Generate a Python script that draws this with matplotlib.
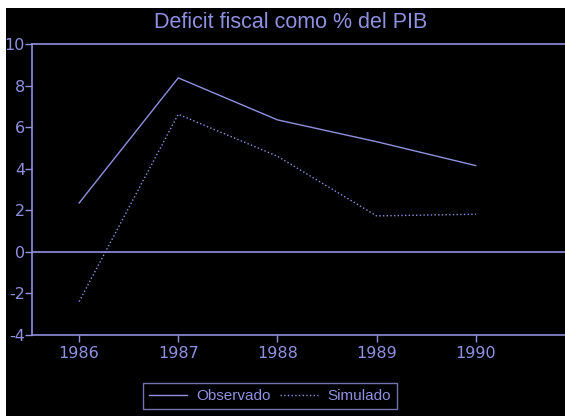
import matplotlib.pyplot as plt
from matplotlib.patches import Rectangle
from matplotlib.lines import Line2D

years = [1986, 1987, 1988, 1989, 1990]
observado = [2.35, 8.37, 6.35, 5.3, 4.15]
simulado = [-2.39, 6.62, 4.6, 1.73, 1.81]

col = '#9090e0'
plt.rcParams['font.family'] = ['Liberation Sans', 'DejaVu Sans']
plt.rcParams['axes.unicode_minus'] = False

fig = plt.figure(figsize=(5.65, 4.16), dpi=100)
fig.patch.set_facecolor('white')
# black panel (white strip on top and left)
fig.patches.append(Rectangle((6 / 565, 0), 1, 1 - 8 / 416, transform=fig.transFigure,
                             facecolor='black', edgecolor='none', zorder=-10))

ax = fig.add_axes([32 / 565, 1 - 335 / 416, (565 - 32) / 565, (335 - 44) / 416])
ax.set_facecolor('black')
ax.plot(years, observado, '-', color=col, lw=1, label='Observado')
ax.plot(years, simulado, ':', color=col, lw=1, label='Simulado')
ax.axhline(0, color=col, lw=1.2)

ax.set_xlim(1985.525, 1990.9)
ax.set_ylim(-4, 10)
ax.set_xticks(years)
ax.set_yticks(range(-4, 11, 2))
for s in ['top', 'bottom', 'left']:
    ax.spines[s].set_color(col)
    ax.spines[s].set_linewidth(1.2)
ax.spines['right'].set_visible(False)
ax.tick_params(colors=col, length=5, width=1)
ax.tick_params(axis='x', pad=3)
ax.tick_params(axis='y', pad=0)
for t in ax.get_xticklabels() + ax.get_yticklabels():
    t.set_family('DejaVu Sans')
    t.set_fontsize(11.5)

fig.text(291 / 565, 1 - 22 / 416, 'Deficit fiscal como % del PIB', color=col,
         fontsize=15.5, ha='center', va='center')

leg = fig.legend(handles=[Line2D([], [], color=col, lw=1, ls='-'),
                          Line2D([], [], color=col, lw=1, ls=':')],
                 labels=['Observado', 'Simulado'], ncol=2,
                 loc='center', bbox_to_anchor=(270 / 565, 1 - 396 / 416),
                 frameon=True, fontsize=11, labelcolor=col, handlelength=2.5,
                 columnspacing=0.6, handletextpad=0.6, borderpad=0.4, fancybox=False)
leg.get_frame().set_facecolor('black')
leg.get_frame().set_edgecolor(col)
leg.get_frame().set_linewidth(1)

fig.savefig('out.png', dpi=100, facecolor=fig.get_facecolor())
